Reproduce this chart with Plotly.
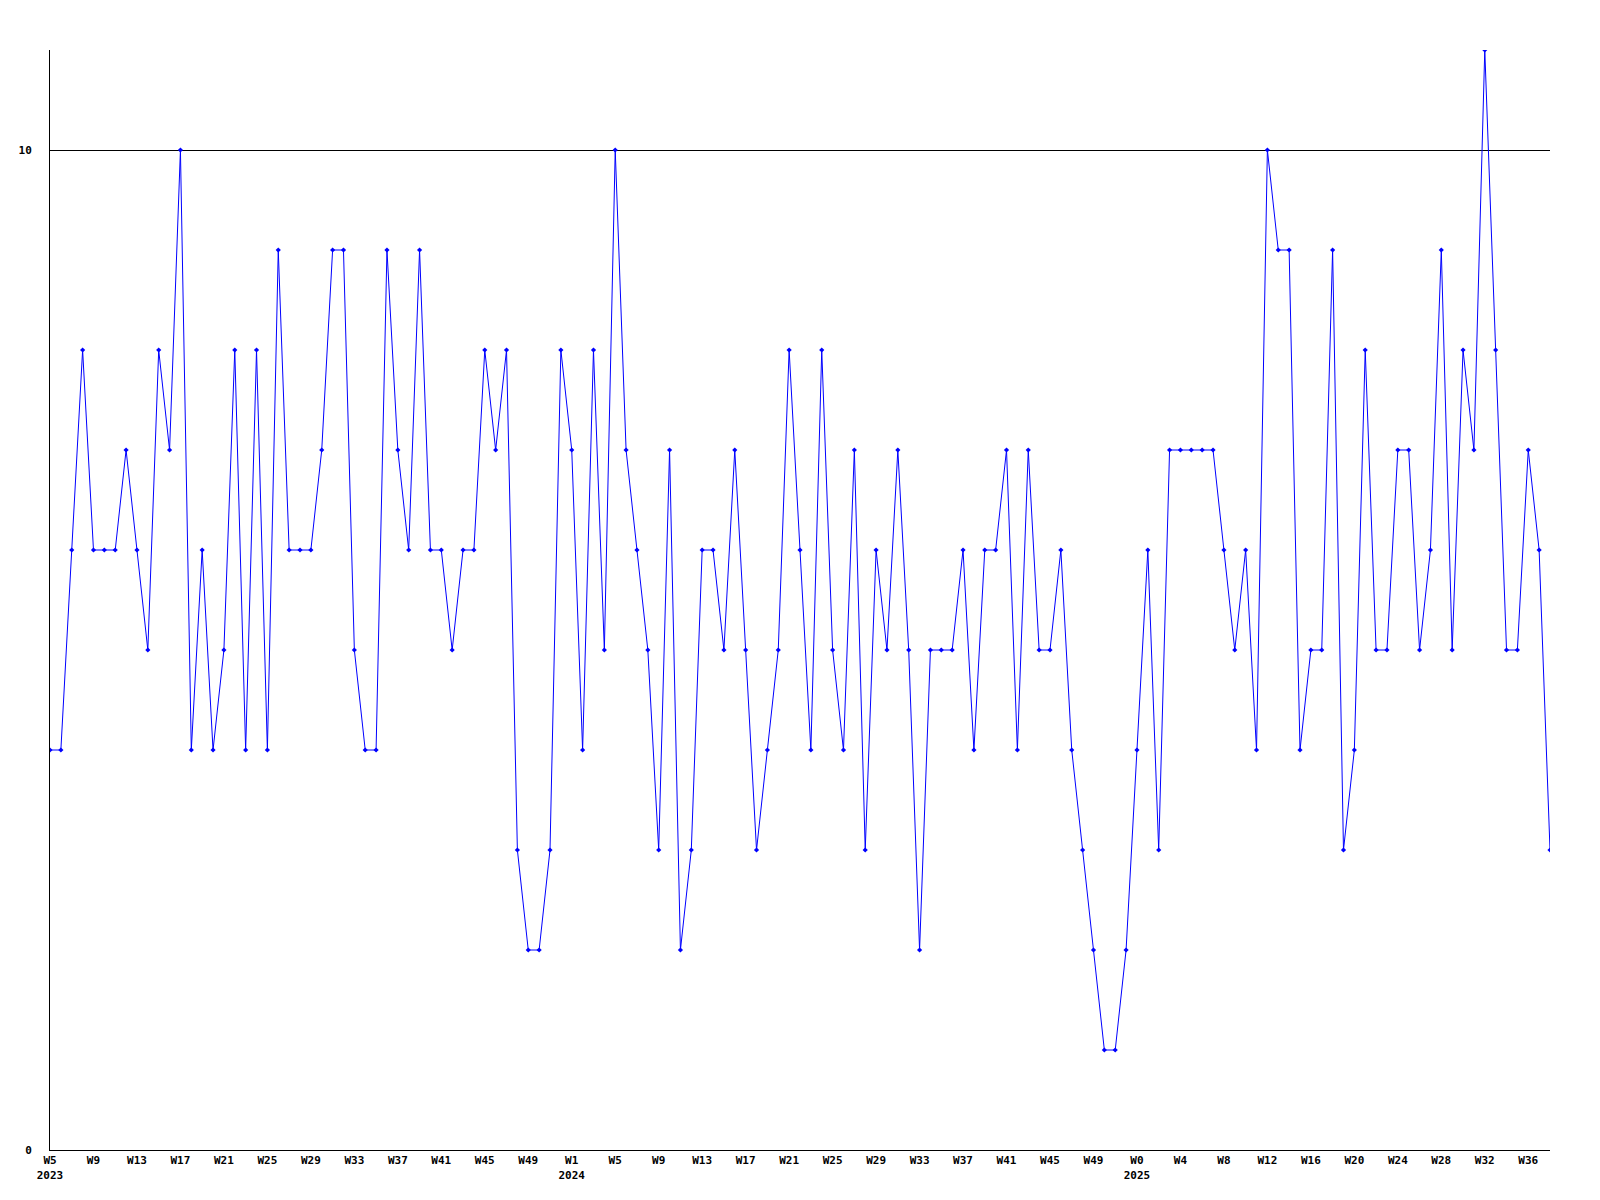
import pandas as pd
import plotly.graph_objects as go

# Weekly values, first week ending Sunday 2023-02-05 (W5 2023)
start_week = "2023-02-05"
values = [4, 4, 6, 8, 6, 6, 6, 7, 6, 5,
          8, 7, 10, 4, 6, 4, 5, 8, 4, 8,
          4, 9, 6, 6, 6, 7, 9, 9, 5, 4,
          4, 9, 7, 6, 9, 6, 6, 5, 6, 6,
          8, 7, 8, 3, 2, 2, 3, 8, 7, 4,
          8, 5, 10, 7, 6, 5, 3, 7, 2, 3,
          6, 6, 5, 7, 5, 3, 4, 5, 8, 6,
          4, 8, 5, 4, 7, 3, 6, 5, 7, 5,
          2, 5, 5, 5, 6, 4, 6, 6, 7, 4,
          7, 5, 5, 6, 4, 3, 2, 1, 1, 2,
          4, 6, 3, 7, 7, 7, 7, 7, 6, 5,
          6, 4, 10, 9, 9, 4, 5, 5, 9, 3,
          4, 8, 5, 5, 7, 7, 5, 6, 9, 5,
          8, 7, 11, 8, 5, 5, 7, 6, 3]

tick_labels = ["W5<br>2023", "W9", "W13", "W17", "W21", "W25", "W29", "W33", "W37",
               "W41", "W45", "W49",
               "W1<br>2024", "W5", "W9", "W13", "W17", "W21", "W25", "W29", "W33",
               "W37", "W41", "W45", "W49",
               "W0<br>2025", "W4", "W8", "W12", "W16", "W20", "W24", "W28", "W32", "W36"]
y_ticks = [0, 10]
y_tick_labels = ["0", "10"]

weeks = pd.date_range(start_week, periods=len(values), freq="7D")
tick_vals = list(weeks[::4][:len(tick_labels)])

font = dict(family="DejaVu Sans Mono", size=11, color="black", weight="bold")

fig = go.Figure()
fig.add_trace(go.Scatter(
    x=weeks, y=values, mode="lines+markers",
    line=dict(color="#0000FF", width=1),
    marker=dict(symbol="diamond", size=4, color="#0000FF"),
    showlegend=False, hoverinfo="x+y",
))

fig.update_layout(
    width=1584, height=1184,
    margin=dict(l=42, r=42, t=42, b=42),
    paper_bgcolor="white", plot_bgcolor="white",
    font=font,
)
fig.update_xaxes(
    range=[weeks[0], weeks[-1]],
    tickvals=tick_vals, ticktext=tick_labels,
    tickangle=0, automargin=False,
    showgrid=False, zeroline=False,
    showline=True, linecolor="black", linewidth=1,
    ticks="", tickfont=font,
)
fig.update_yaxes(
    range=[0, 11], automargin=False,
    tickvals=y_ticks, ticktext=y_tick_labels,
    showgrid=True, gridcolor="black", gridwidth=1,
    zeroline=False,
    showline=True, linecolor="black", linewidth=1,
    ticks="", tickfont=font, ticklabelstandoff=15,
)

fig.write_html("out.html")
